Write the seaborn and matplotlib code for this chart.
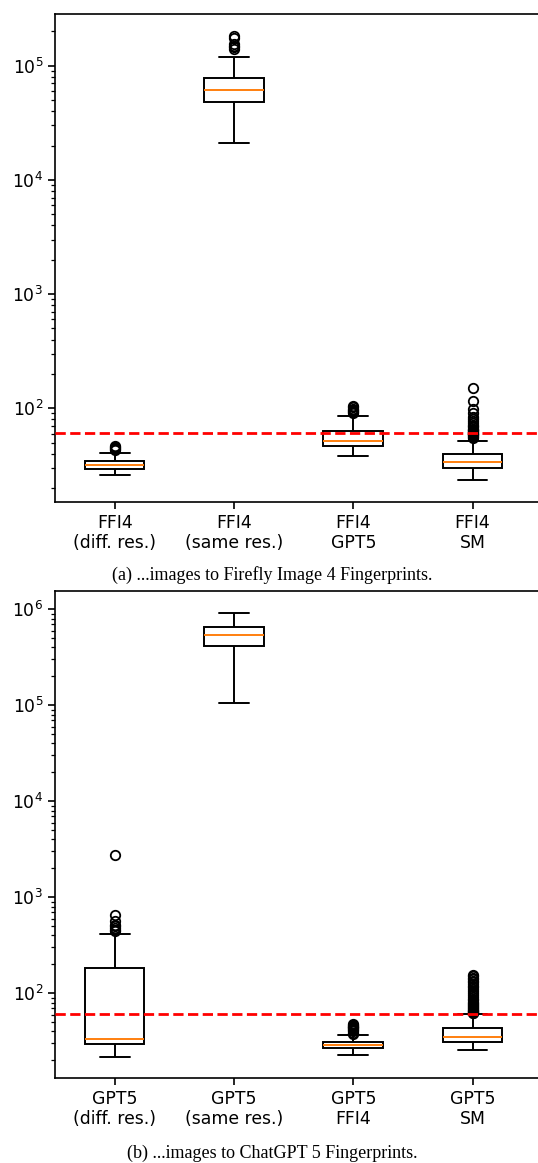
import numpy as np
import pandas as pd
import matplotlib
matplotlib.use("Agg")
import matplotlib.pyplot as plt
import seaborn as sns

# ---------------- data ----------------
# Panel (a): distances of images to Firefly Image 4 fingerprints
cats_a = ["FFI4\n(diff. res.)", "FFI4\n(same res.)", "FFI4\nGPT5", "FFI4\nSM"]
whislo_a = [26.1, 20900, 38.2, 23.6]
q1_a = [29.4, 48100, 46.5, 30.2]
med_a = [31.9, 61600, 52.0, 33.9]
q3_a = [34.6, 77600, 63.6, 39.6]
whishi_a = [40.6, 118500, 85.6, 52.0]
fliers_a = [
    [43, 44, 45, 46, 47],
    [140000, 145000, 150000, 156000, 175000, 182000],
    [90, 92, 94, 96, 99, 102, 105],
    [55, 56, 57, 58, 59, 60, 61, 62, 63, 64, 65, 66, 68, 70, 72, 74, 77,
     80, 84, 90, 99, 116, 151],
]
caption_a = "(a) ...images to Firefly Image 4 Fingerprints."

# Panel (b): distances of images to ChatGPT 5 fingerprints
cats_b = ["GPT5\n(diff. res.)", "GPT5\n(same res.)", "GPT5\nFFI4", "GPT5\nSM"]
whislo_b = [21.9, 105000, 22.6, 25.6]
q1_b = [29.6, 412000, 26.7, 31.3]
med_b = [33.7, 545000, 28.7, 35.3]
q3_b = [184.8, 655000, 30.9, 43.2]
whishi_b = [410, 908000, 36.8, 60.5]
fliers_b = [
    [440, 460, 480, 500, 520, 560, 650, 2750],
    [],
    [38, 39, 40, 41, 42, 43, 44, 45, 46, 47, 48],
    [62, 63, 64, 65, 66, 67, 68, 70, 72, 74, 76, 78, 80, 82, 85, 88, 92,
     96, 100, 105, 110, 115, 120, 125, 130, 135, 140, 145, 150, 155],
]
caption_b = "(b) ...images to ChatGPT 5 Fingerprints."

threshold = 61
ylim_a = (15.1, 2.84e5)
ylim_b = (13.1, 1.55e6)


def build_frame(cats, lo, q1, med, q3, hi, fliers):
    """Long-form table whose box statistics equal the values read above."""
    rows = []
    for c, a, b, m, d, e, f in zip(cats, lo, q1, med, q3, hi, fliers):
        k = len(f) + 1
        vals = [a] + [b] * k + [m] * k + [d] * k + [e] * (k - len(f)) + list(f)
        rows += [(c, v) for v in vals]
    return pd.DataFrame(rows, columns=["group", "value"])


df_a = build_frame(cats_a, whislo_a, q1_a, med_a, q3_a, whishi_a, fliers_a)
df_b = build_frame(cats_b, whislo_b, q1_b, med_b, q3_b, whishi_b, fliers_b)

# ---------------- style ----------------
sns.set_style("ticks", {
    "axes.edgecolor": "black", "xtick.color": "black", "ytick.color": "black",
    "text.color": "black", "axes.labelcolor": "black",
})
plt.rcParams["font.family"] = ["DejaVu Sans"]
plt.rcParams["mathtext.fontset"] = "dejavusans"
plt.rcParams["axes.linewidth"] = 1.2

fig = plt.figure(figsize=(5.38, 11.63), dpi=100)
W, H = 538, 1163
left_px, right_px = 55, 545
ax_a = fig.add_axes([left_px / W, 1 - 502 / H, (right_px - left_px) / W, (502 - 14) / H])
ax_b = fig.add_axes([left_px / W, 1 - 1078 / H, (right_px - left_px) / W, (1078 - 591) / H])

LW = 1.4
for ax, df, cats, ylim in [(ax_a, df_a, cats_a, ylim_a), (ax_b, df_b, cats_b, ylim_b)]:
    sns.boxplot(
        data=df, x="group", y="value", order=cats, ax=ax,
        width=0.5, color="white", linecolor="black", linewidth=LW,
        whis=1.5, fliersize=6.8,
        medianprops={"color": "#ff7f0e", "linewidth": LW},
        flierprops={"marker": "o", "markerfacecolor": "none",
                    "markeredgecolor": "black", "markeredgewidth": 1.3,
                    "markersize": 6.8},
    )
    ax.set_yscale("log")
    ax.set_ylim(*ylim)
    ax.set_xlim(-0.5, -0.5 + (right_px - left_px) / 119.3)
    ax.axhline(threshold, color="red", linestyle="--", linewidth=2, zorder=5)
    ax.set_xlabel("")
    ax.set_ylabel("")
    ax.tick_params(axis="both", which="major", labelsize=12.4, length=5, width=1.2)
    ax.tick_params(axis="y", which="minor", length=3, width=0.9)
    for lab in ax.get_xticklabels():
        lab.set_linespacing(1.15)
    for s in ax.spines.values():
        s.set_visible(True)

fig.text(0.506, 1 - 575 / H, caption_a, ha="center", va="center",
         family="Liberation Serif", fontsize=13)
fig.text(0.506, 1 - 1153 / H, caption_b, ha="center", va="center",
         family="Liberation Serif", fontsize=13)

fig.savefig("out.png", dpi=100)
